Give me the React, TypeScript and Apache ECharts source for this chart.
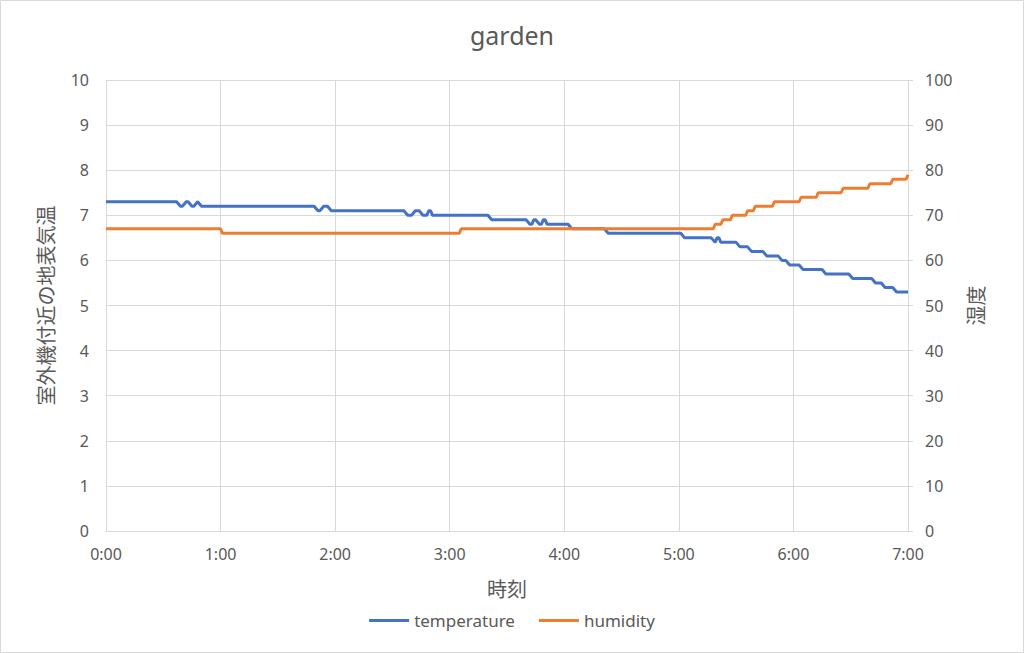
import React, { useEffect, useRef } from "react";
import * as echarts from "echarts";

// minutes since 0:00, value
const temperatureReadings: [number, number][] = [
  [0, 7.3], [37, 7.3], [39, 7.2], [40, 7.2], [42, 7.3], [43, 7.3], [45, 7.2], [46, 7.2], [48, 7.3], [50, 7.2],
  [109, 7.2], [111, 7.1], [112, 7.1], [114, 7.2], [116, 7.2], [118, 7.1],
  [156, 7.1], [158, 7.0], [160, 7.0], [162, 7.1], [164, 7.1], [166, 7.0], [168, 7.0], [169, 7.1], [170, 7.1], [171, 7.0],
  [200, 7.0], [202, 6.9],
  [220, 6.9], [222, 6.8], [223, 6.8], [224, 6.9], [225, 6.9], [227, 6.8], [228, 6.8], [229, 6.9], [230, 6.9], [231, 6.8],
  [242, 6.8], [244, 6.7], [261, 6.7], [263, 6.6], [301, 6.6], [303, 6.5],
  [317, 6.5], [319, 6.4], [320, 6.5], [321, 6.5], [322, 6.4],
  [330, 6.4], [332, 6.3], [336, 6.3], [338, 6.2], [344, 6.2], [346, 6.1], [352, 6.1], [354, 6.0],
  [356, 6.0], [358, 5.9], [363, 5.9], [365, 5.8], [375, 5.8], [377, 5.7], [389, 5.7], [391, 5.6],
  [401, 5.6], [403, 5.5], [406, 5.5], [408, 5.4], [412, 5.4], [414, 5.3], [420, 5.3],
];

const humidityReadings: [number, number][] = [
  [0, 67], [60, 67], [61, 66], [185, 66], [186, 67], [318, 67], [319, 68], [322, 68], [323, 69],
  [327, 69], [328, 70], [335, 70], [336, 71], [339, 71], [340, 72], [349, 72], [350, 73],
  [363, 73], [364, 74], [372, 74], [373, 75], [385, 75], [386, 76], [399, 76], [400, 77],
  [411, 77], [412, 78], [419, 78], [420, 79],
];

const titleText = "garden";
const seriesNames = ["temperature", "humidity"];
const xAxisName = "時刻";
const leftAxisName = "室外機付近の地表気温";
const rightAxisName = "湿度";

const FONT = "'Noto Sans', 'Noto Sans CJK JP', sans-serif";
const TEXT = "#595959";
const GRID = "#d9d9d9";

export default function App() {
  const ref = useRef<HTMLDivElement>(null);
  useEffect(() => {
    if (!ref.current) return;
    document.body.style.margin = "0";
    const chart = echarts.init(ref.current, undefined, { renderer: "svg" });
    chart.setOption({
      animation: false,
      backgroundColor: "#ffffff",
      textStyle: { fontFamily: FONT, color: TEXT },
      title: {
        text: titleText,
        left: "center",
        top: 17,
        textStyle: { fontFamily: FONT, fontSize: 25, fontWeight: "normal", color: TEXT },
      },
      graphic: [
        {
          type: "rect",
          shape: { x: 0.5, y: 0.5, width: 1023, height: 652 },
          style: { fill: "none", stroke: GRID, lineWidth: 1 },
          silent: true,
        },
      ],
      legend: {
        bottom: 19,
        left: "center",
        itemWidth: 40,
        itemHeight: 3,
        itemGap: 24,
        icon: "rect",
        textStyle: { fontFamily: FONT, fontSize: 17, color: TEXT },
        data: seriesNames,
      },
      grid: { left: 106, right: 116, top: 80, bottom: 122, containLabel: false },
      xAxis: {
        type: "value",
        min: 0,
        max: 420,
        interval: 60,
        name: xAxisName,
        nameLocation: "middle",
        nameGap: 48,
        nameTextStyle: { fontFamily: FONT, fontSize: 20, color: TEXT },
        axisLine: { show: true, lineStyle: { color: GRID, width: 1 } },
        axisTick: { show: false },
        axisLabel: {
          fontFamily: FONT,
          fontSize: 16,
          color: TEXT,
          margin: 15,
          formatter: (v: number) => `${Math.round(v / 60)}:00`,
        },
        splitLine: { show: true, lineStyle: { color: GRID, width: 1 } },
      },
      yAxis: [
        {
          type: "value",
          min: 0,
          max: 10,
          interval: 1,
          position: "left",
          name: leftAxisName,
          nameLocation: "middle",
          nameRotate: 90,
          nameGap: 50,
          nameTextStyle: { fontFamily: FONT, fontSize: 20, color: TEXT },
          axisLine: { show: true, lineStyle: { color: GRID, width: 1 } },
          axisTick: { show: false },
          axisLabel: { fontFamily: FONT, fontSize: 16, color: TEXT, margin: 17 },
          splitLine: { show: true, lineStyle: { color: GRID, width: 1 } },
        },
        {
          type: "value",
          min: 0,
          max: 100,
          interval: 10,
          position: "right",
          name: rightAxisName,
          nameLocation: "middle",
          nameRotate: 90,
          nameGap: 58,
          nameTextStyle: { fontFamily: FONT, fontSize: 20, color: TEXT },
          axisLine: { show: true, lineStyle: { color: GRID, width: 1 } },
          axisTick: { show: true, length: 5, lineStyle: { color: GRID } },
          axisLabel: { fontFamily: FONT, fontSize: 16, color: TEXT, margin: 17 },
          splitLine: { show: false },
        },
      ],
      series: [
        {
          name: seriesNames[0],
          type: "line",
          yAxisIndex: 0,
          data: temperatureReadings,
          showSymbol: false,
          symbol: "none",
          lineStyle: { color: "#4472C4", width: 3 },
          itemStyle: { color: "#4472C4" },
        },
        {
          name: seriesNames[1],
          type: "line",
          yAxisIndex: 1,
          data: humidityReadings,
          showSymbol: false,
          symbol: "none",
          lineStyle: { color: "#ED7D31", width: 3 },
          itemStyle: { color: "#ED7D31" },
        },
      ],
    });
    return () => chart.dispose();
  }, []);
  return (
    <div
      ref={ref}
      style={{ position: "absolute", left: 0, top: 0, width: 1024, height: 653 }}
    />
  );
}
